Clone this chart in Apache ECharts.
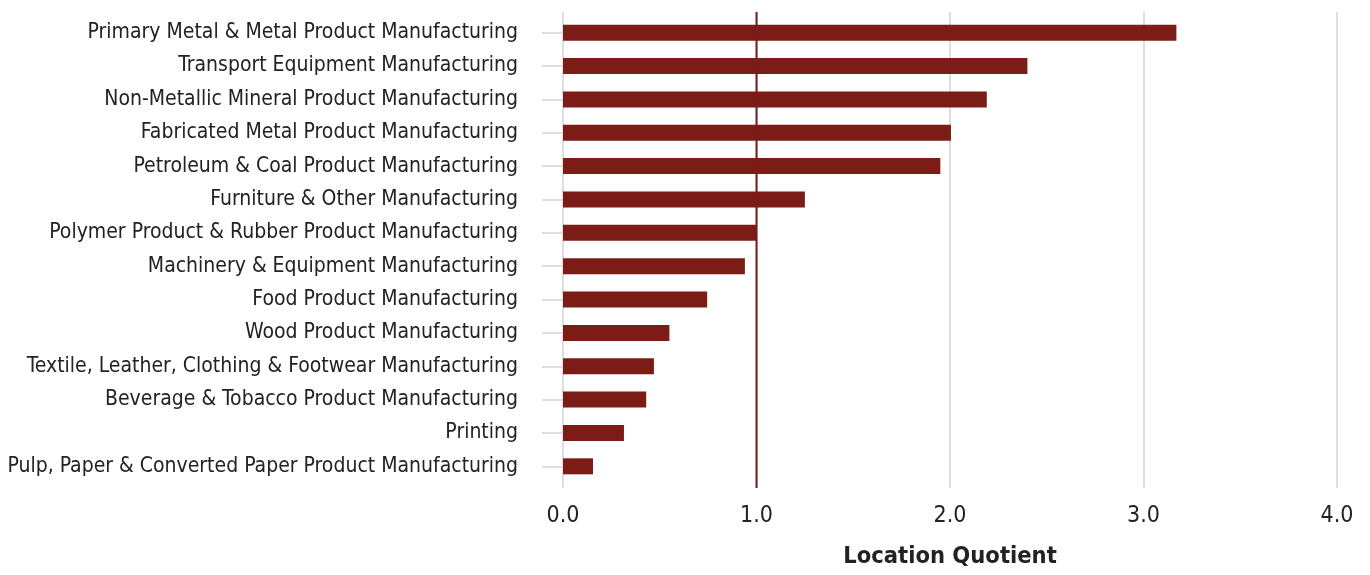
<!DOCTYPE html>
<html>
<head>
<meta charset="utf-8">
<script src="https://cdn.jsdelivr.net/npm/echarts@6/dist/echarts.min.js"></script>
<style>
  html, body { margin: 0; padding: 0; background: #fff; }
  #chart { width: 1370px; height: 575px; }
</style>
</head>
<body>
<div id="chart"></div>
<script>
// Manufacturing industries, top to bottom
const industries = [
  'Primary Metal & Metal Product Manufacturing',
  'Transport Equipment Manufacturing',
  'Non-Metallic Mineral Product Manufacturing',
  'Fabricated Metal Product Manufacturing',
  'Petroleum & Coal Product Manufacturing',
  'Furniture & Other Manufacturing',
  'Polymer Product & Rubber Product Manufacturing',
  'Machinery & Equipment Manufacturing',
  'Food Product Manufacturing',
  'Wood Product Manufacturing',
  'Textile, Leather, Clothing & Footwear Manufacturing',
  'Beverage & Tobacco Product Manufacturing',
  'Printing',
  'Pulp, Paper & Converted Paper Product Manufacturing'
];

// Location quotient per industry
const locationQuotient = [3.17, 2.40, 2.19, 2.005, 1.95, 1.25, 1.00, 0.94, 0.745, 0.55, 0.47, 0.43, 0.315, 0.155];

// Benchmark: national average (LQ = 1)
const benchmark = 1.0;

// Value axis range
const lqMin = 0;
const lqMax = 4;
const lqStep = 1;

const FONT = '"DejaVu Sans Condensed", "DejaVu Sans", sans-serif';
const BAR = '#7b1c16';
const GRID = '#dedede';
const TEXT = '#222';

const chart = echarts.init(document.getElementById('chart'), null, { renderer: 'canvas' });

chart.setOption({
  animation: false,
  grid: [
    // bars and category labels
    { left: 563, right: 33, top: 16, bottom: 92, containLabel: false },
    // gridlines, value labels and benchmark line (slightly taller frame)
    { left: 563, right: 33, top: 12, bottom: 87, containLabel: false }
  ],
  xAxis: [
    {
      gridIndex: 0, type: 'value', min: lqMin, max: lqMax, interval: lqStep,
      axisLine: { show: false }, axisTick: { show: false },
      axisLabel: { show: false }, splitLine: { show: false }
    },
    {
      gridIndex: 1, type: 'value', min: lqMin, max: lqMax, interval: lqStep,
      name: 'Location Quotient',
      nameLocation: 'middle',
      nameGap: 57,
      nameMoveOverlap: false,
      nameTextStyle: { fontFamily: FONT, fontSize: 23.5, fontWeight: 'bold', color: TEXT },
      axisLine: { show: false },
      axisTick: { show: false },
      axisLabel: {
        fontFamily: FONT, fontSize: 23, color: TEXT, margin: 17,
        formatter: v => v.toFixed(1)
      },
      splitLine: { show: true, lineStyle: { color: GRID, width: 2 } }
    }
  ],
  yAxis: [
    {
      gridIndex: 0,
      type: 'category',
      inverse: true,
      data: industries,
      axisLine: { show: false },
      axisTick: { show: true, alignWithLabel: true, length: 21, lineStyle: { color: GRID, width: 2 } },
      axisLabel: { fontFamily: FONT, fontSize: 21, color: TEXT, margin: 45 },
      splitLine: { show: false }
    },
    {
      gridIndex: 1, type: 'value', min: 0, max: 1, show: false
    }
  ],
  series: [
    {
      type: 'bar',
      xAxisIndex: 0,
      yAxisIndex: 0,
      data: locationQuotient,
      barWidth: 16,
      itemStyle: { color: BAR },
      z: 3
    },
    {
      // vertical benchmark line across the full plot height
      type: 'line',
      xAxisIndex: 1,
      yAxisIndex: 1,
      data: [[benchmark, 0], [benchmark, 1]],
      showSymbol: false,
      symbol: 'none',
      silent: true,
      lineStyle: { color: BAR, width: 2 },
      z: 4
    }
  ]
});
</script>
</body>
</html>
